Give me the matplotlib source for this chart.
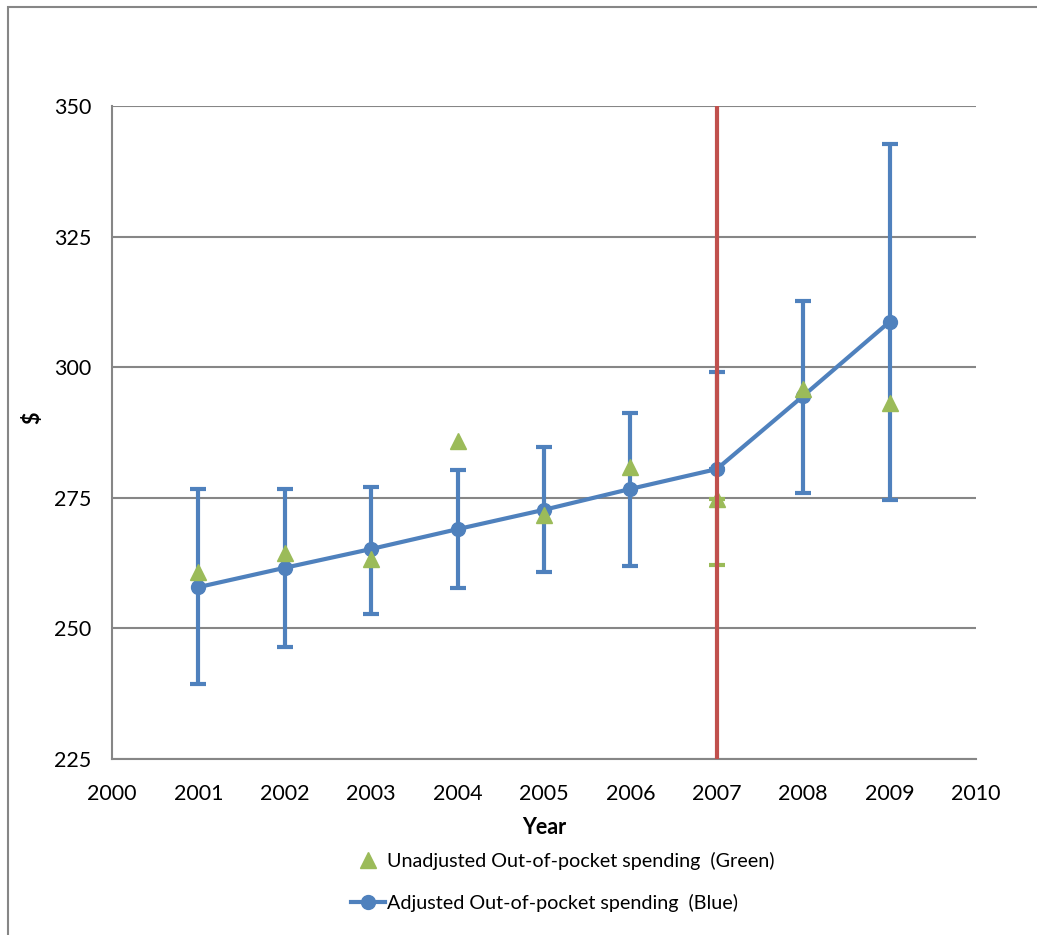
#!/usr/bin/env python
"""
Out-of-pocket spending by year, adjusted vs unadjusted,
with error bars and a marker line at 2007
"""

import matplotlib.pyplot as plt
import matplotlib as mpl
from matplotlib.lines import Line2D
from matplotlib.patches import Rectangle

# --- data
years = [2001, 2002, 2003, 2004, 2005, 2006, 2007, 2008, 2009]
adjusted = [257.9, 261.6, 265.2, 269.0, 272.7, 276.7, 280.5, 294.5, 308.7]
adj_upper = [276.7, 276.7, 277.1, 280.3, 284.7, 291.2, 299.0, 312.7, 342.7]
adj_lower = [239.4, 246.4, 252.8, 257.7, 260.8, 262.0, 280.5, 275.9, 274.6]
unadjusted = [260.8, 264.4, 263.3, 285.9, 271.7, 280.9, 274.8, 295.8, 293.1]
unadj_lower_2007 = 262.1
policy_year = 2007

blue = '#4F81BD'
green = '#9BBB59'
red = '#C0504D'
grey = '#868686'

plt.rcParams['font.family'] = ['Lato', 'DejaVu Sans']
font_size = 14
mpl.rcParams.update({'font.size': font_size})

fig = plt.figure(figsize=(10.37, 9.35), dpi=100)
# outer chart frame (only top/left visible)
fig.patches.append(Rectangle((8 / 1037, -0.1), 1.2, 1 - 7 / 935 + 0.1,
                             transform=fig.transFigure, fill=False,
                             edgecolor=grey, lw=1.5))

ax = fig.add_axes([112 / 1037, 1 - 759 / 935, 864 / 1037, 653 / 935])

# --- error bars (blue)
yerr = [[a - lo for a, lo in zip(adjusted, adj_lower)],
        [hi - a for a, hi in zip(adjusted, adj_upper)]]
ax.errorbar(years, adjusted, yerr=yerr, fmt='none', ecolor=blue,
            elinewidth=3, capsize=5.5, capthick=3, zorder=3)
# lower error for unadjusted series at 2007
i7 = years.index(policy_year)
ax.errorbar([policy_year], [unadjusted[i7]],
            yerr=[[unadjusted[i7] - unadj_lower_2007], [0]], fmt='none',
            ecolor=green, elinewidth=3, capsize=5.5, capthick=3, zorder=3)

# --- series
ax.plot(years, adjusted, color=blue, lw=3, marker='o', ms=10, zorder=4)
ax.plot(years, unadjusted, ls='none', marker='^', color=green, ms=11,
        zorder=5)
ax.axvline(policy_year, color=red, lw=3, zorder=6)

# --- axes
ax.set_xlim(2000, 2010)
ax.set_ylim(225, 350)
ax.set_xticks(range(2000, 2011))
ax.set_yticks(range(225, 351, 25))
ax.grid(axis='y', color=grey, lw=1.5, zorder=1)
ax.tick_params(axis='x', length=0, pad=18, labelsize=15.5)
ax.tick_params(axis='y', length=0, pad=15, labelsize=15.5)
for s in ['top', 'right']:
    ax.spines[s].set_visible(False)
for s in ['left', 'bottom']:
    ax.spines[s].set_color(grey)
    ax.spines[s].set_linewidth(1.5)

ax.set_xlabel('Year', fontweight='bold', labelpad=9, fontsize=15.5)
fig.text(33 / 1037, 1 - 418 / 935, '$', rotation=90, fontweight='bold',
         ha='center', va='center', fontsize=15.5)

# --- legend
handles = [Line2D([], [], ls='none', marker='^', color=green, ms=11),
           Line2D([], [], color=blue, lw=3, marker='o', ms=10)]
labels = ['Unadjusted Out-of-pocket spending  (Green)',
          'Adjusted Out-of-pocket spending  (Blue)']
fig.legend(handles, labels, loc='upper left',
           bbox_to_anchor=(333 / 1037, 1 - 834 / 935), frameon=False,
           handlelength=1.75, handletextpad=0.1, labelspacing=1.2,
           fontsize=14.2)

fig.savefig('out.png', dpi=100)
